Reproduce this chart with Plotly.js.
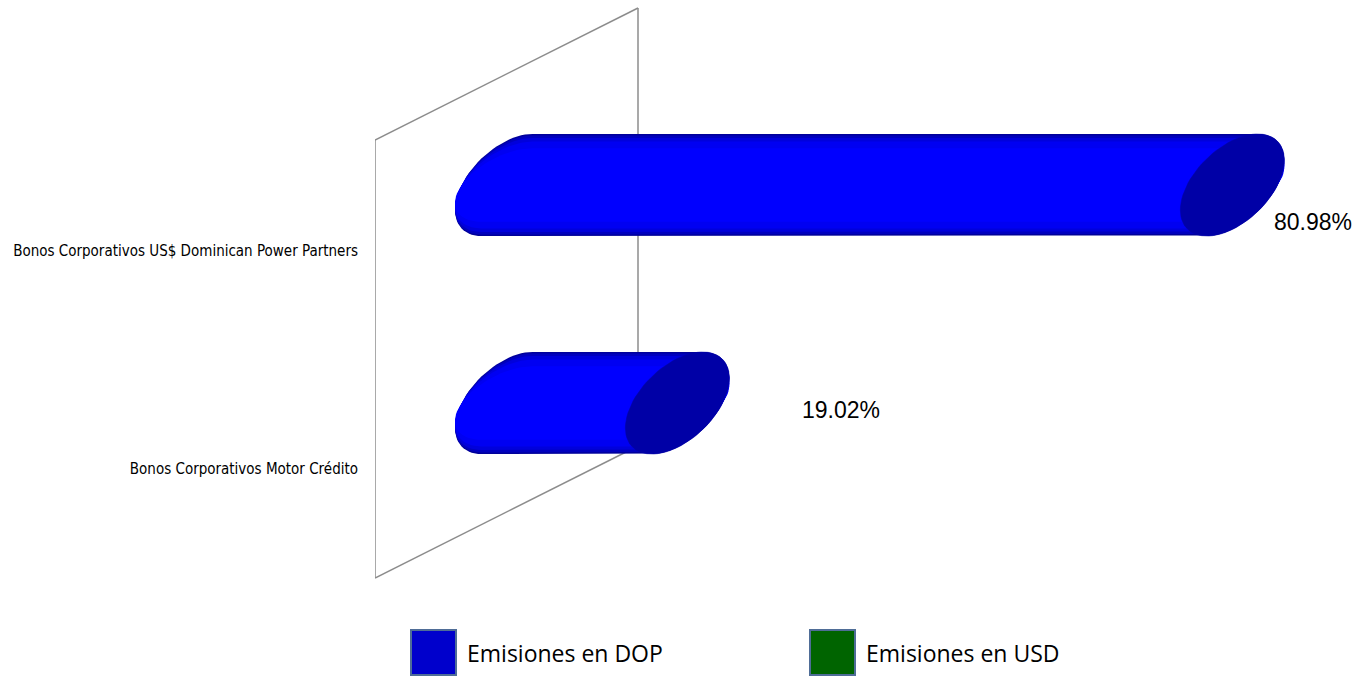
<!DOCTYPE html>
<html>
<head>
<meta charset="utf-8">
<script src="https://cdn.plot.ly/plotly-3.0.1.min.js"></script>
<style>html,body{margin:0;padding:0;background:#fff}#chart{width:1364px;height:677px}</style>
</head>
<body>
<div id="chart"></div>
<script>
// ---- data ----
const categories = ["Bonos Corporativos US$ Dominican Power Partners", "Bonos Corporativos Motor Crédito"];
const dopValues = [80.98, 19.02];
const valueLabels = ["80.98%", "19.02%"];
const legendNames = ["Emisiones en DOP", "Emisiones en USD"];
const legendColors = ["#0000CC", "#006400"];

// ---- geometry / style ----
const W = 1364, H = 677;
const ML = 375;                 // left margin (front wall)
const ZERO_PX = 507;            // pixel of value 0
const PXU = 8.957;              // pixels per unit on x
const CAT0_PY = 251, CAT_STEP = 218; // pixel y of category labels
const DEPTH_DY = 66;            // bar center above its label (3D depth)
const EA = 52, EB = 25, EC = 44.5; // sheared-ellipse params (px)

const xr = [(ML - ZERO_PX) / PXU, (W - ZERO_PX) / PXU];
const yr = [(H - CAT0_PY) / CAT_STEP, (0 - CAT0_PY) / CAT_STEP];
const px2x = p => (p - ZERO_PX) / PXU;
const py2y = p => (p - CAT0_PY) / CAT_STEP;
const ax = EA / PXU, by = EB / CAT_STEP, cy_ = EC / CAT_STEP, dyDepth = DEPTH_DY / CAT_STEP;

const tTop = Math.atan2(EC, EB);
function ellPt(cx, cy, t, s) {
  return [cx + ax * Math.cos(t), cy - s * (by * Math.cos(t) + cy_ * Math.sin(t))];
}
function bodyPath(x0, x1, cy, s) {
  const xs = [], ys = [], N = 40;
  for (let k = 0; k <= N; k++) {
    const t = tTop + Math.PI * k / N;
    const p = ellPt(x0, cy, t, s); xs.push(p[0]); ys.push(p[1]);
  }
  for (let k = 0; k <= N; k++) {
    const t = tTop + Math.PI + Math.PI * k / N;
    const p = ellPt(x1, cy, t, s); xs.push(p[0]); ys.push(p[1]);
  }
  xs.push(xs[0]); ys.push(ys[0]);
  return [xs, ys];
}
function capPath(x1, cy) {
  const xs = [], ys = [], N = 80;
  for (let k = 0; k <= N; k++) {
    const p = ellPt(x1, cy, 2 * Math.PI * k / N, 1); xs.push(p[0]); ys.push(p[1]);
  }
  return [xs, ys];
}

const layers = [[1.0, "#00009A"], [0.97, "#0000BE"], [0.92, "#0000DC"], [0.85, "#0000F2"], [0.72, "#0000FF"]];
const traces = [];
dopValues.forEach((v, i) => {
  const cy = i - dyDepth;
  layers.forEach(([s, c]) => {
    const [xs, ys] = bodyPath(0, v, cy, s);
    traces.push({type: "scatter", mode: "lines", x: xs, y: ys, fill: "toself", fillcolor: c,
      line: {width: 0, color: c}, hoverinfo: "skip", showlegend: false});
  });
  const [cxs, cys] = capPath(v, cy);
  traces.push({type: "scatter", mode: "lines", x: cxs, y: cys, fill: "toself", fillcolor: "#0000A6",
    line: {width: 0.5, color: "#0000A6"}, hoverinfo: "skip", showlegend: false,
    name: legendNames[0]});
});

// wall lines (3D frame), drawn below the bars
const wallColor = "#8C8C8C";
const wall = [
  [375, 140, 375, 578], [375, 140, 638, 8], [638, 8, 638, 446], [375, 578, 638, 446]
];
const shapes = wall.map(([a, b, c, d]) => ({type: "line", xref: "x", yref: "y", layer: "below",
  x0: px2x(a), y0: py2y(b), x1: px2x(c), y1: py2y(d), line: {color: wallColor, width: 1.5}}));

// data labels
const labelShift = [[81, -37], [164, -7]];
const annotations = dopValues.map((v, i) => ({x: v, y: i - dyDepth, xref: "x", yref: "y",
  text: valueLabels[i], showarrow: false, xanchor: "center", yanchor: "middle",
  xshift: labelShift[i][0], yshift: labelShift[i][1],
  font: {family: "Liberation Sans, Arial, sans-serif", size: 23, color: "#000"}}));

// manual legend (large swatches)
const legX = [411, 810];
legendNames.forEach((n, i) => {
  shapes.push({type: "rect", xref: "x", yref: "y", layer: "above",
    x0: px2x(legX[i]), x1: px2x(legX[i] + 45), y0: py2y(630), y1: py2y(675),
    fillcolor: legendColors[i], line: {color: "#4F6D97", width: 2}});
  annotations.push({x: px2x(legX[i] + 54), y: py2y(653), xref: "x", yref: "y", text: n,
    showarrow: false, xanchor: "left", yanchor: "middle",
    font: {family: "Open Sans, Liberation Sans, sans-serif", size: 23, color: "#000"}});
});

const layout = {
  width: W, height: H,
  margin: {l: ML, r: 0, t: 0, b: 0, pad: 0},
  paper_bgcolor: "#fff", plot_bgcolor: "rgba(0,0,0,0)",
  showlegend: false,
  xaxis: {range: xr, visible: false, fixedrange: true},
  yaxis: {range: yr, autorange: false, tickvals: [0, 1], ticktext: categories,
    showgrid: false, zeroline: false, showline: false, ticks: "", ticklabelstandoff: 16,
    tickfont: {family: "DejaVu Sans Condensed, sans-serif", size: 15, color: "#000"},
    fixedrange: true},
  shapes: shapes,
  annotations: annotations
};
Plotly.newPlot("chart", traces, layout, {displayModeBar: false, staticPlot: true});
</script>
</body>
</html>
